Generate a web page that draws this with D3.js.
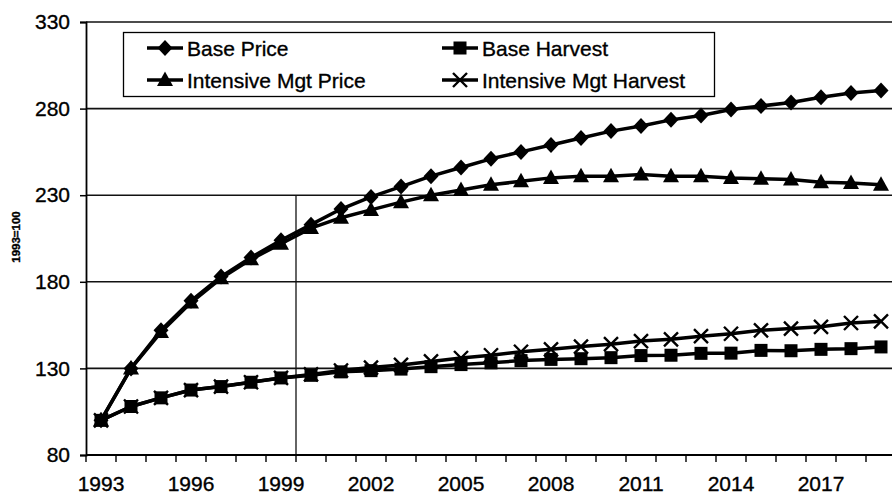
<!DOCTYPE html>
<html lang="en">
<head>
<meta charset="UTF-8">
<title>Price and harvest index</title>
<script src="https://cdn.jsdelivr.net/npm/d3@7/dist/d3.min.js"></script>
<style>
body { margin: 0; background: #fff; }
text { font-family: "Liberation Sans", Arial, sans-serif; fill: #000; stroke: #000; stroke-width: 0.35px; }
</style>
</head>
<body>
<svg id="chart" width="892" height="495"></svg>
<script>
// years on the category axis
let years = d3.range(1993, 2020).map(String)
let yTicks = [80, 130, 180, 230, 280, 330]

// index values, 1993 = 100
let basePrice = [100, 130, 152, 169, 183, 194, 204, 213, 222, 229, 235, 241, 246, 251, 255, 259,
	263, 267, 270, 273.5, 276, 279.5, 281.5, 283.5, 286.5, 289, 290.5]
let intPrice = [100, 130, 151, 168, 182, 193, 202, 211, 217, 221.5, 226, 230, 233, 236, 238, 240,
	241, 241, 242, 241, 241, 240, 239.5, 239, 237.5, 237, 236]
let baseHarvest = [100, 108, 113, 117.5, 119.5, 122, 124.5, 126, 128, 128.7, 129.6, 131, 132.2, 133.2, 134.5, 135.2,
	135.6, 136.2, 137.4, 137.6, 138.7, 138.8, 140.4, 140.2, 141, 141.4, 142.4]
let intHarvest = [100, 108, 113, 117.5, 119.5, 122, 124.5, 126.5, 128.8, 130.5, 132, 134, 136, 137.6, 139.6, 141,
	142.6, 144, 145.8, 146.8, 148.6, 150, 152, 153, 154, 156.2, 157.2]

let series = [
	{ name: 'Base Price', values: basePrice, mark: 'diamond' },
	{ name: 'Base Harvest', values: baseHarvest, mark: 'square' },
	{ name: 'Intensive Mgt Price', values: intPrice, mark: 'triangle' },
	{ name: 'Intensive Mgt Harvest', values: intHarvest, mark: 'cross' },
]

let svg = d3.select('#chart')
let plotLeft = 86, plotTop = 22, plotBottom = 455

let x = d3.scaleBand().domain(years).range([plotLeft, plotLeft + years.length * 30])
let y = d3.scaleLinear().domain([80, 330]).range([plotBottom, plotTop])
let cx = d => x(d) + x.bandwidth() / 2

// horizontal grid
svg.append('g').selectAll('line').data(yTicks.slice(1)).join('line')
	.attr('x1', plotLeft).attr('x2', 892)
	.attr('y1', d => y(d)).attr('y2', d => y(d))
	.attr('stroke', '#111').attr('stroke-width', 1.6)

// divider between 1999 and 2000
svg.append('line')
	.attr('x1', x('2000')).attr('x2', x('2000'))
	.attr('y1', y(230)).attr('y2', plotBottom)
	.attr('stroke', '#111').attr('stroke-width', 1.3)

// y axis
let yAxis = svg.append('g').attr('transform', `translate(${plotLeft},0)`)
	.call(d3.axisLeft(y).tickValues(yTicks).tickSize(6).tickPadding(10))
yAxis.select('.domain').attr('stroke', '#000').attr('stroke-width', 1.8)
yAxis.selectAll('.tick line').attr('stroke', '#000').attr('stroke-width', 1.5)
yAxis.selectAll('text').style('font-size', '21px').style('font-family', '"Liberation Sans", Arial, sans-serif').attr('fill', '#000')

// x axis: ticks between categories, labels every third year
let xAxis = svg.append('g').attr('transform', `translate(0,${plotBottom})`)
xAxis.append('line').attr('x1', plotLeft).attr('x2', 892)
	.attr('stroke', '#000').attr('stroke-width', 1.8)
xAxis.selectAll('.tk').data(years).join('line').attr('class', 'tk')
	.attr('x1', d => x(d)).attr('x2', d => x(d))
	.attr('y1', 0).attr('y2', 7)
	.attr('stroke', '#000').attr('stroke-width', 1.4)
xAxis.selectAll('text').data(years.filter((d, i) => i % 3 === 0)).join('text')
	.attr('x', d => cx(d)).attr('y', 36)
	.attr('text-anchor', 'middle')
	.style('font-size', '21px')
	.text(d => d)

// y title
svg.append('text')
	.attr('transform', 'translate(20,237) rotate(-90)')
	.attr('text-anchor', 'middle')
	.style('font-size', '11.5px').style('font-weight', 'bold')
	.text('1993=100')

function drawMark(g, kind) {
	if (kind === 'diamond') {
		g.append('path').attr('d', 'M0,-8L7.5,0L0,8L-7.5,0Z').attr('fill', '#000')
	} else if (kind === 'square') {
		g.append('rect').attr('x', -6.5).attr('y', -6.5).attr('width', 13).attr('height', 13).attr('fill', '#000')
	} else if (kind === 'triangle') {
		g.append('path').attr('d', 'M0,-8.5L8,6L-8,6Z').attr('fill', '#000')
	} else {
		g.append('path').attr('d', 'M-7,-7L7,7M-7,7L7,-7')
			.attr('stroke', '#000').attr('stroke-width', 2.4).attr('fill', 'none')
	}
}

let line = d3.line().x((d, i) => cx(years[i])).y(d => y(d))

// harvest first, prices on top
let order = [1, 3, 2, 0]
order.forEach(k => {
	let s = series[k]
	svg.append('path').datum(s.values)
		.attr('d', line)
		.attr('fill', 'none').attr('stroke', '#000').attr('stroke-width', 3.5)
		.attr('stroke-linejoin', 'round')
	svg.append('g').selectAll('g').data(s.values).join('g')
		.attr('transform', (d, i) => `translate(${cx(years[i])},${y(d)})`)
		.each(function () { drawMark(d3.select(this), s.mark) })
})

// legend
let legend = svg.append('g')
legend.append('rect').attr('x', 123.5).attr('y', 32.5).attr('width', 591).attr('height', 64)
	.attr('fill', '#fff').attr('stroke', '#000').attr('stroke-width', 1.3)
let legendPos = [[147, 48], [442, 48], [147, 80], [442, 80]]
series.forEach((s, i) => {
	let [lx, ly] = legendPos[i]
	let g = legend.append('g').attr('transform', `translate(${lx},${ly})`)
	g.append('line').attr('x1', 0).attr('x2', 36).attr('stroke', '#000').attr('stroke-width', 3.5)
	let m = g.append('g').attr('transform', 'translate(18,0)')
	drawMark(m, s.mark)
	g.append('text').attr('x', 40).attr('y', 7.5)
		.style('font-size', '21px')
		.text(s.name)
})
</script>
</body>
</html>
